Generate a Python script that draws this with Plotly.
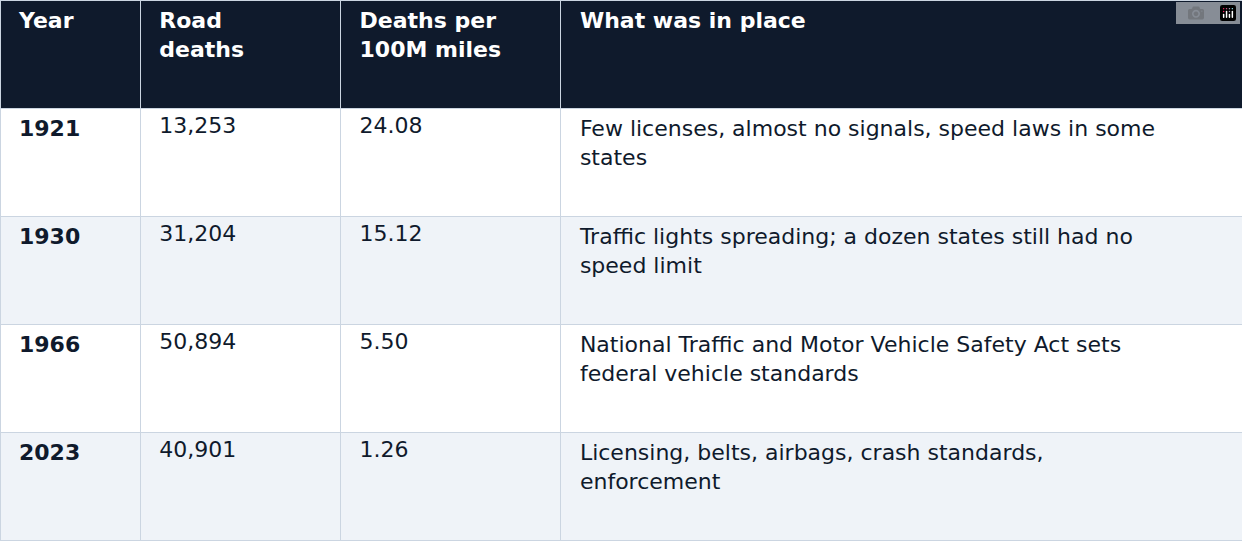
import plotly.graph_objects as go

headers = ["Year", "Road<br>deaths", "Deaths per<br>100M miles", "What was in place"]
years = ["1921", "1930", "1966", "2023"]
deaths = ["13,253", "31,204", "50,894", "40,901"]
rates = ["24.08", "15.12", "5.50", "1.26"]
policies = [
    "Few licenses, almost no signals, speed laws in some<br>states",
    "Traffic lights spreading; a dozen states still had no<br>speed limit",
    "National Traffic and Motor Vehicle Safety Act sets<br>federal vehicle standards",
    "Licensing, belts, airbags, crash standards,<br>enforcement",
]

pad = "\u2002"
def p(s):
    return pad + s.replace("<br>", "<br>" + pad)

row_fill = ["#ffffff", "#eff3f8", "#ffffff", "#eff3f8"]
fig = go.Figure(go.Table(
    columnwidth=[140, 200, 220, 680],
    header=dict(values=[p("<b>%s</b>" % h.replace("<br>", "</b><br><b>")) for h in headers],
                fill_color="#0f1a2c", line_color="#cbd5e1",
                font=dict(color="white", size=22, family="DejaVu Sans"),
                align="left", height=108),
    cells=dict(values=[[p("<b>%s</b>" % y) for y in years], [p(d) for d in deaths],
                       [p(r) for r in rates], [p(x) for x in policies]],
               fill_color=[row_fill] * 4, line_color="#cbd5e1",
               font=dict(color="#0f1a2c", size=22, family="DejaVu Sans"),
               align="left", height=108),
))
fig.update_layout(width=1242, height=542, margin=dict(l=0, r=0, t=0, b=0),
                  paper_bgcolor="white")
fig.write_html("out.html", post_script="document.body.style.margin='0';")
